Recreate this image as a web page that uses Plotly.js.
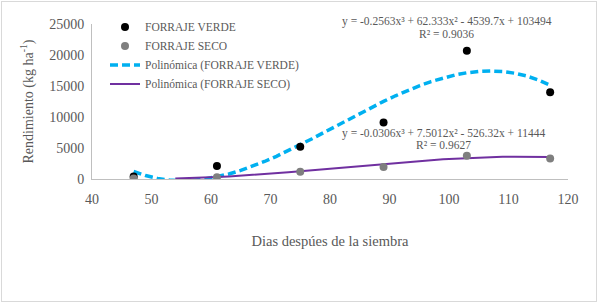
<!DOCTYPE html>
<html>
<head>
<meta charset="utf-8">
<script src="https://cdn.plot.ly/plotly-3.0.1.min.js"></script>
<style>
  html, body { margin: 0; padding: 0; background: #ffffff; }
  #wrap { position: relative; width: 598px; height: 303px; }
  #chart { position: absolute; left: 0; top: 0; width: 598px; height: 303px; }
  #frame { position: absolute; left: 1px; top: 1px; width: 594px; height: 299px; border: 1px solid #d9d9d9; pointer-events: none; }
</style>
</head>
<body>
<div id="wrap"><div id="chart"></div><div id="frame"></div></div>
<script>
// Observed data (days after sowing, yield kg/ha)
const dias = [47, 61, 75, 89, 103, 117];
const forrajeVerde = [400, 2100, 5200, 9100, 20700, 14000];
const forrajeSeco = [100, 300, 1150, 1950, 3750, 3300];

// Trend line readings (polynomial fits as drawn)
const diasTendVerde = [47, 49, 51, 53, 55, 57, 59, 61, 63, 65, 67, 69, 71, 73, 75, 77, 79, 81, 83, 85, 87, 89, 91, 93, 95, 97, 99, 101, 103, 105, 107, 109, 111, 113, 115, 117];
const tendVerde = [1212, 557, 99, -174, -274, -213, -6, 338, 806, 1384, 2061, 2825, 3663, 4563, 5513, 6500, 7512, 8537, 9562, 10575, 11564, 12517, 13421, 14263, 15033, 15716, 16302, 16777, 17130, 17348, 17418, 17329, 17068, 16624, 15982, 15132];
const diasTendSeco = [54, 55, 57, 59, 61, 63, 65, 67, 69, 71, 73, 75, 77, 79, 81, 83, 85, 87, 89, 91, 93, 95, 97, 99, 101, 103, 105, 107, 109, 111, 113, 115, 117];
const tendSeco = [80, 96, 148, 218, 305, 407, 522, 650, 789, 937, 1093, 1255, 1422, 1593, 1765, 1939, 2111, 2281, 2446, 2607, 2761, 2906, 3042, 3167, 3278, 3376, 3458, 3523, 3569, 3595, 3600, 3582, 3539];

const xTicks = [40, 50, 60, 70, 80, 90, 100, 110, 120];
const yTicks = [0, 5000, 10000, 15000, 20000, 25000];

const nombres = ['FORRAJE VERDE', 'FORRAJE SECO', 'Polinómica (FORRAJE VERDE)', 'Polinómica (FORRAJE SECO)'];
const ecuaciones = [
  'y = -0.2563x³ + 62.333x² - 4539.7x + 103494',
  'R² = 0.9036',
  'y = -0.0306x³ + 7.5012x² - 526.32x + 11444',
  'R² = 0.9627'
];

const txt = '#595959';
const serif = "Liberation Serif, Tinos, Times New Roman, Times, DejaVu Serif, Noto Serif, serif";

const traces = [
  { x: diasTendVerde, y: tendVerde, mode: 'lines', name: nombres[2], legendrank: 3,
    line: { color: '#00b0f0', width: 3.5, dash: '8px,4px' }, hoverinfo: 'skip' },
  { x: diasTendSeco, y: tendSeco, mode: 'lines', name: nombres[3], legendrank: 4,
    line: { color: '#7030a0', width: 2 }, hoverinfo: 'skip' },
  { x: dias, y: forrajeVerde, mode: 'markers', name: nombres[0], legendrank: 1,
    marker: { color: '#000000', size: 8 } },
  { x: dias, y: forrajeSeco, mode: 'markers', name: nombres[1], legendrank: 2,
    marker: { color: '#7f7f7f', size: 8 } }
];

function px2x(px) { return (px - 92) / 476; }
function px2y(py) { return (179 - py) / 160; }

const annFont = { family: serif, size: 11.5, color: txt };
const annotations = [
  { text: ecuaciones[0], x: px2x(447), y: px2y(16.7) },
  { text: ecuaciones[1], x: px2x(446), y: px2y(29.3) },
  { text: ecuaciones[2], x: px2x(443), y: px2y(132.3) },
  { text: ecuaciones[3], x: px2x(443.5), y: px2y(144.3) }
].map(a => Object.assign(a, { xref: 'paper', yref: 'paper', xanchor: 'center', yanchor: 'middle', showarrow: false, font: annFont }));

const layout = {
  width: 598, height: 303,
  margin: { l: 92, r: 30, t: 19, b: 124 },
  paper_bgcolor: '#ffffff', plot_bgcolor: '#ffffff',
  font: { family: serif, color: txt, size: 14 },
  showlegend: true,
  legend: { x: px2x(105), y: px2y(7), xanchor: 'left', yanchor: 'top',
    bgcolor: 'rgba(0,0,0,0)', font: { family: serif, size: 11.5, color: txt } },
  xaxis: {
    range: [40, 120], tickvals: xTicks, ticktext: xTicks.map(String),
    showgrid: false, zeroline: false, showline: true, linecolor: '#bfbfbf', linewidth: 1,
    ticks: '', ticklabelstandoff: 7, tickfont: { family: serif, size: 14, color: txt },
    title: { text: 'Dias despúes de la siembra', font: { family: serif, size: 14.5, color: txt }, standoff: 30 }
  },
  yaxis: {
    range: [0, 25000], tickvals: yTicks, ticktext: yTicks.map(String),
    showgrid: false, zeroline: false, showline: true, linecolor: '#bfbfbf', linewidth: 1,
    ticks: '', ticklabelstandoff: 4, tickfont: { family: serif, size: 14, color: txt },
    title: { text: 'Rendimiento (kg ha<sup>-1</sup>)', font: { family: serif, size: 14, color: txt }, standoff: 12 }
  },
  annotations: annotations
};

Plotly.newPlot('chart', traces, layout, { displayModeBar: false, staticPlot: true });
</script>
</body>
</html>
